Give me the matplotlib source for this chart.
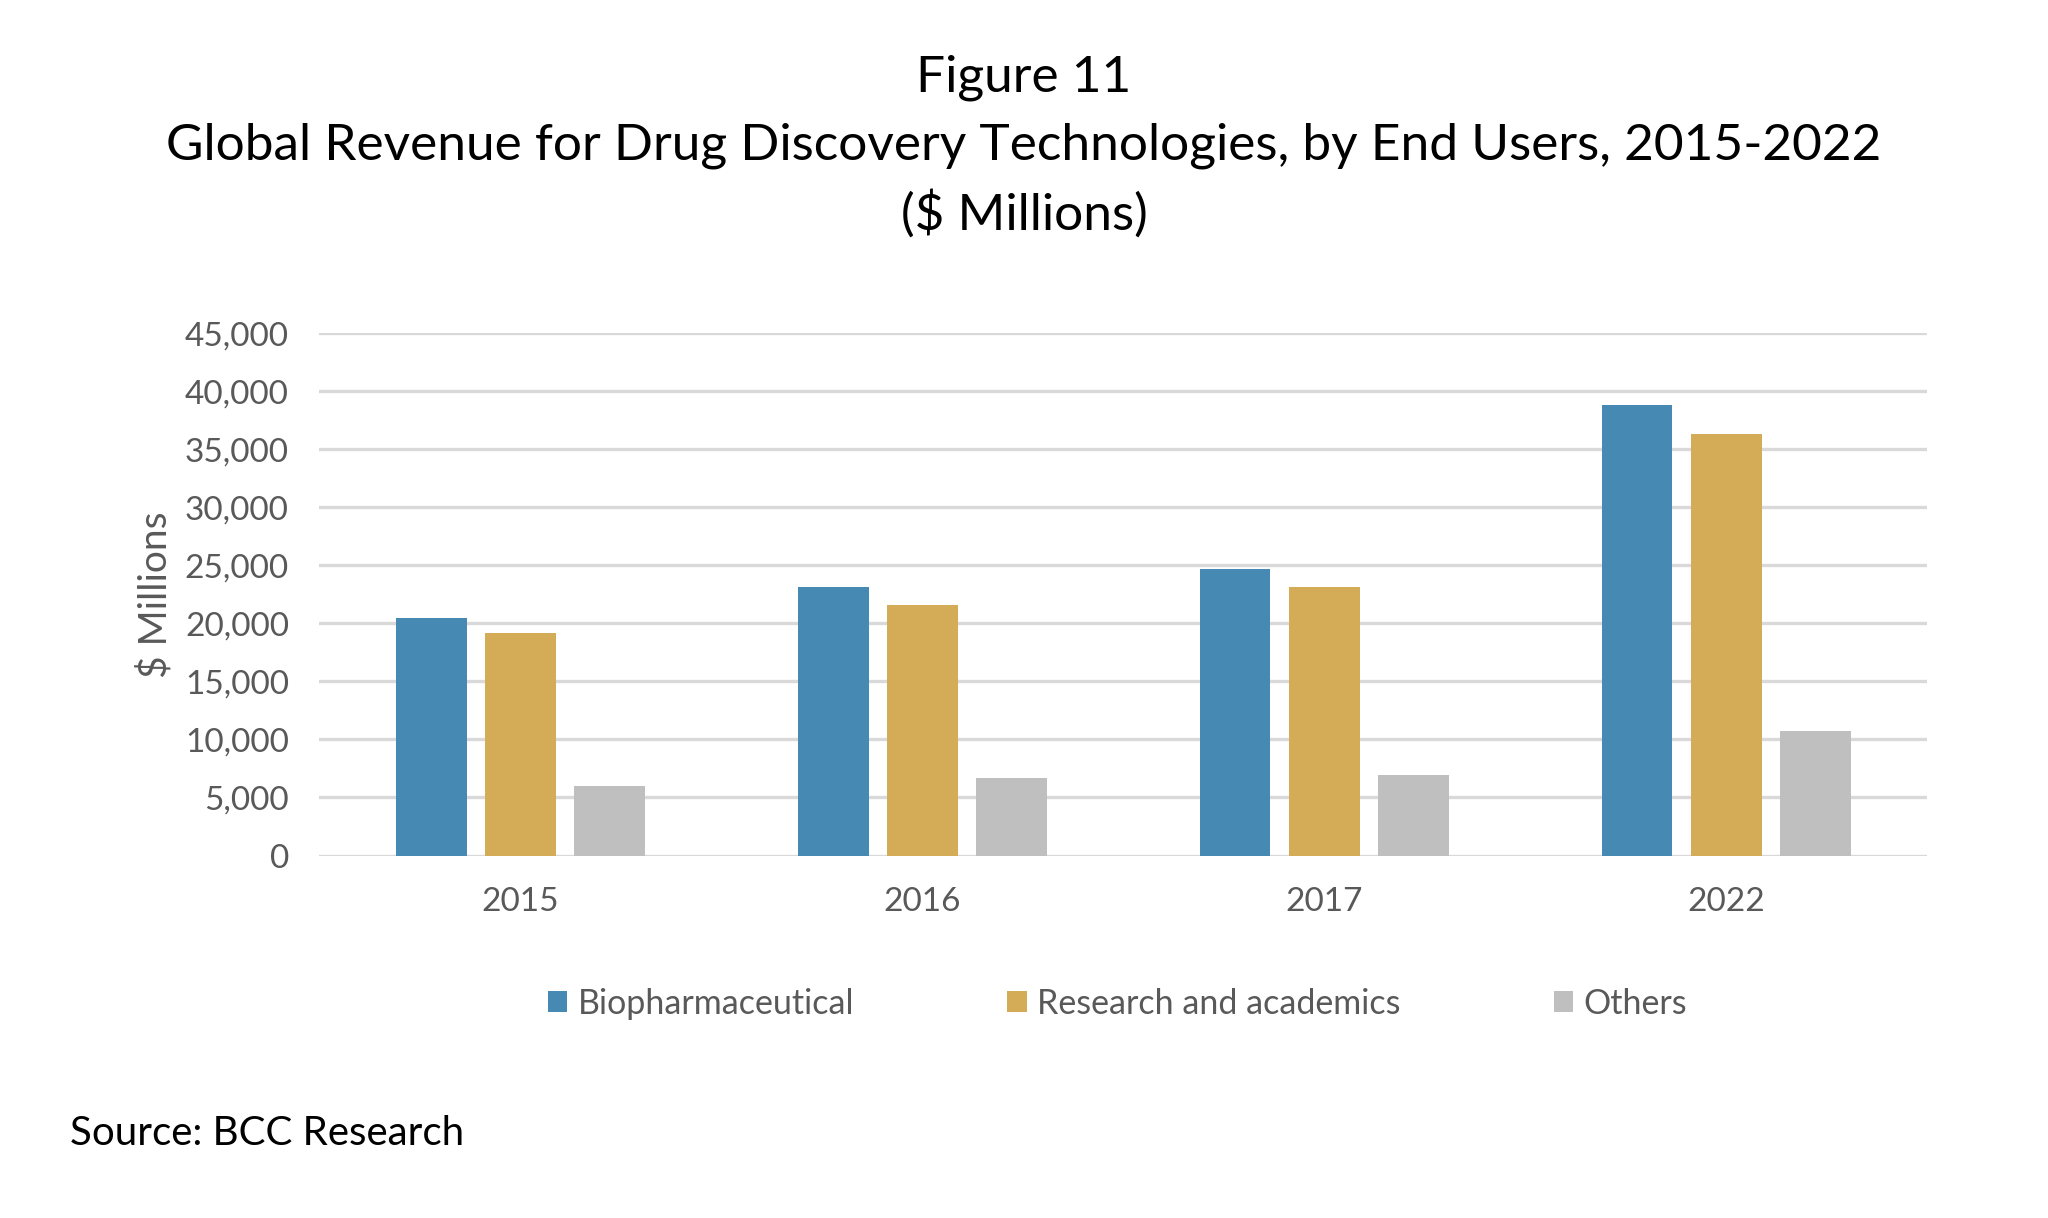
import matplotlib
matplotlib.use('Agg')
import matplotlib.pyplot as plt
import numpy as np

years = ['2015', '2016', '2017', '2022']
biopharma = [20500, 23150, 24650, 38800]
research = [19200, 21550, 23100, 36300]
others = [6000, 6650, 6950, 10750]

series_names = ['Biopharmaceutical', 'Research and academics', 'Others']
colors = ['#4689B2', '#D4AB57', '#BFBFBF']

plt.rcParams['font.family'] = ['Lato', 'DejaVu Sans']

fig = plt.figure(figsize=(20.48, 12.18), dpi=100)
ax = fig.add_axes([0.156, 0.2976, 0.785, 0.4289])

x = np.arange(len(years))
w = 0.176
off = 0.222
for i, (vals, name, c) in enumerate(zip([biopharma, research, others], series_names, colors)):
    ax.bar(x + (i - 1) * off, vals, width=w, color=c, label=name, zorder=3)

ax.set_xlim(-0.5, 3.5)
ax.set_ylim(0, 45000)
ax.set_yticks(range(0, 45001, 5000))
ax.set_yticklabels([f'{v:,}' for v in range(0, 45001, 5000)])
ax.set_xticks(x)
ax.set_xticklabels(years)
ax.grid(axis='y', color='#D9D9D9', linewidth=2.4, zorder=0)
for s in ax.spines.values():
    s.set_visible(False)
ax.tick_params(length=0, labelsize=24, labelcolor='#595959')
ax.tick_params(axis='y', pad=22)
ax.tick_params(axis='x', pad=23)
ax.set_ylabel('$ Millions', fontsize=28, color='#595959', labelpad=8)

fig.text(0.5, 0.936, 'Figure 11', ha='center', va='center', fontsize=37)
fig.text(0.5, 0.880, 'Global Revenue for Drug Discovery Technologies, by End Users, 2015-2022',
         ha='center', va='center', fontsize=37)
fig.text(0.5, 0.824, '($ Millions)', ha='center', va='center', fontsize=37)

fig.legend(loc='center', bbox_to_anchor=(0.5456, 0.176), ncol=3, frameon=False,
           fontsize=24.5, labelcolor='#595959', handlelength=0.58, handleheight=0.58,
           handletextpad=0.3, columnspacing=4.5)

fig.text(0.034, 0.069, 'Source: BCC Research', ha='left', va='center', fontsize=29)

plt.savefig('out.png', dpi=100)
